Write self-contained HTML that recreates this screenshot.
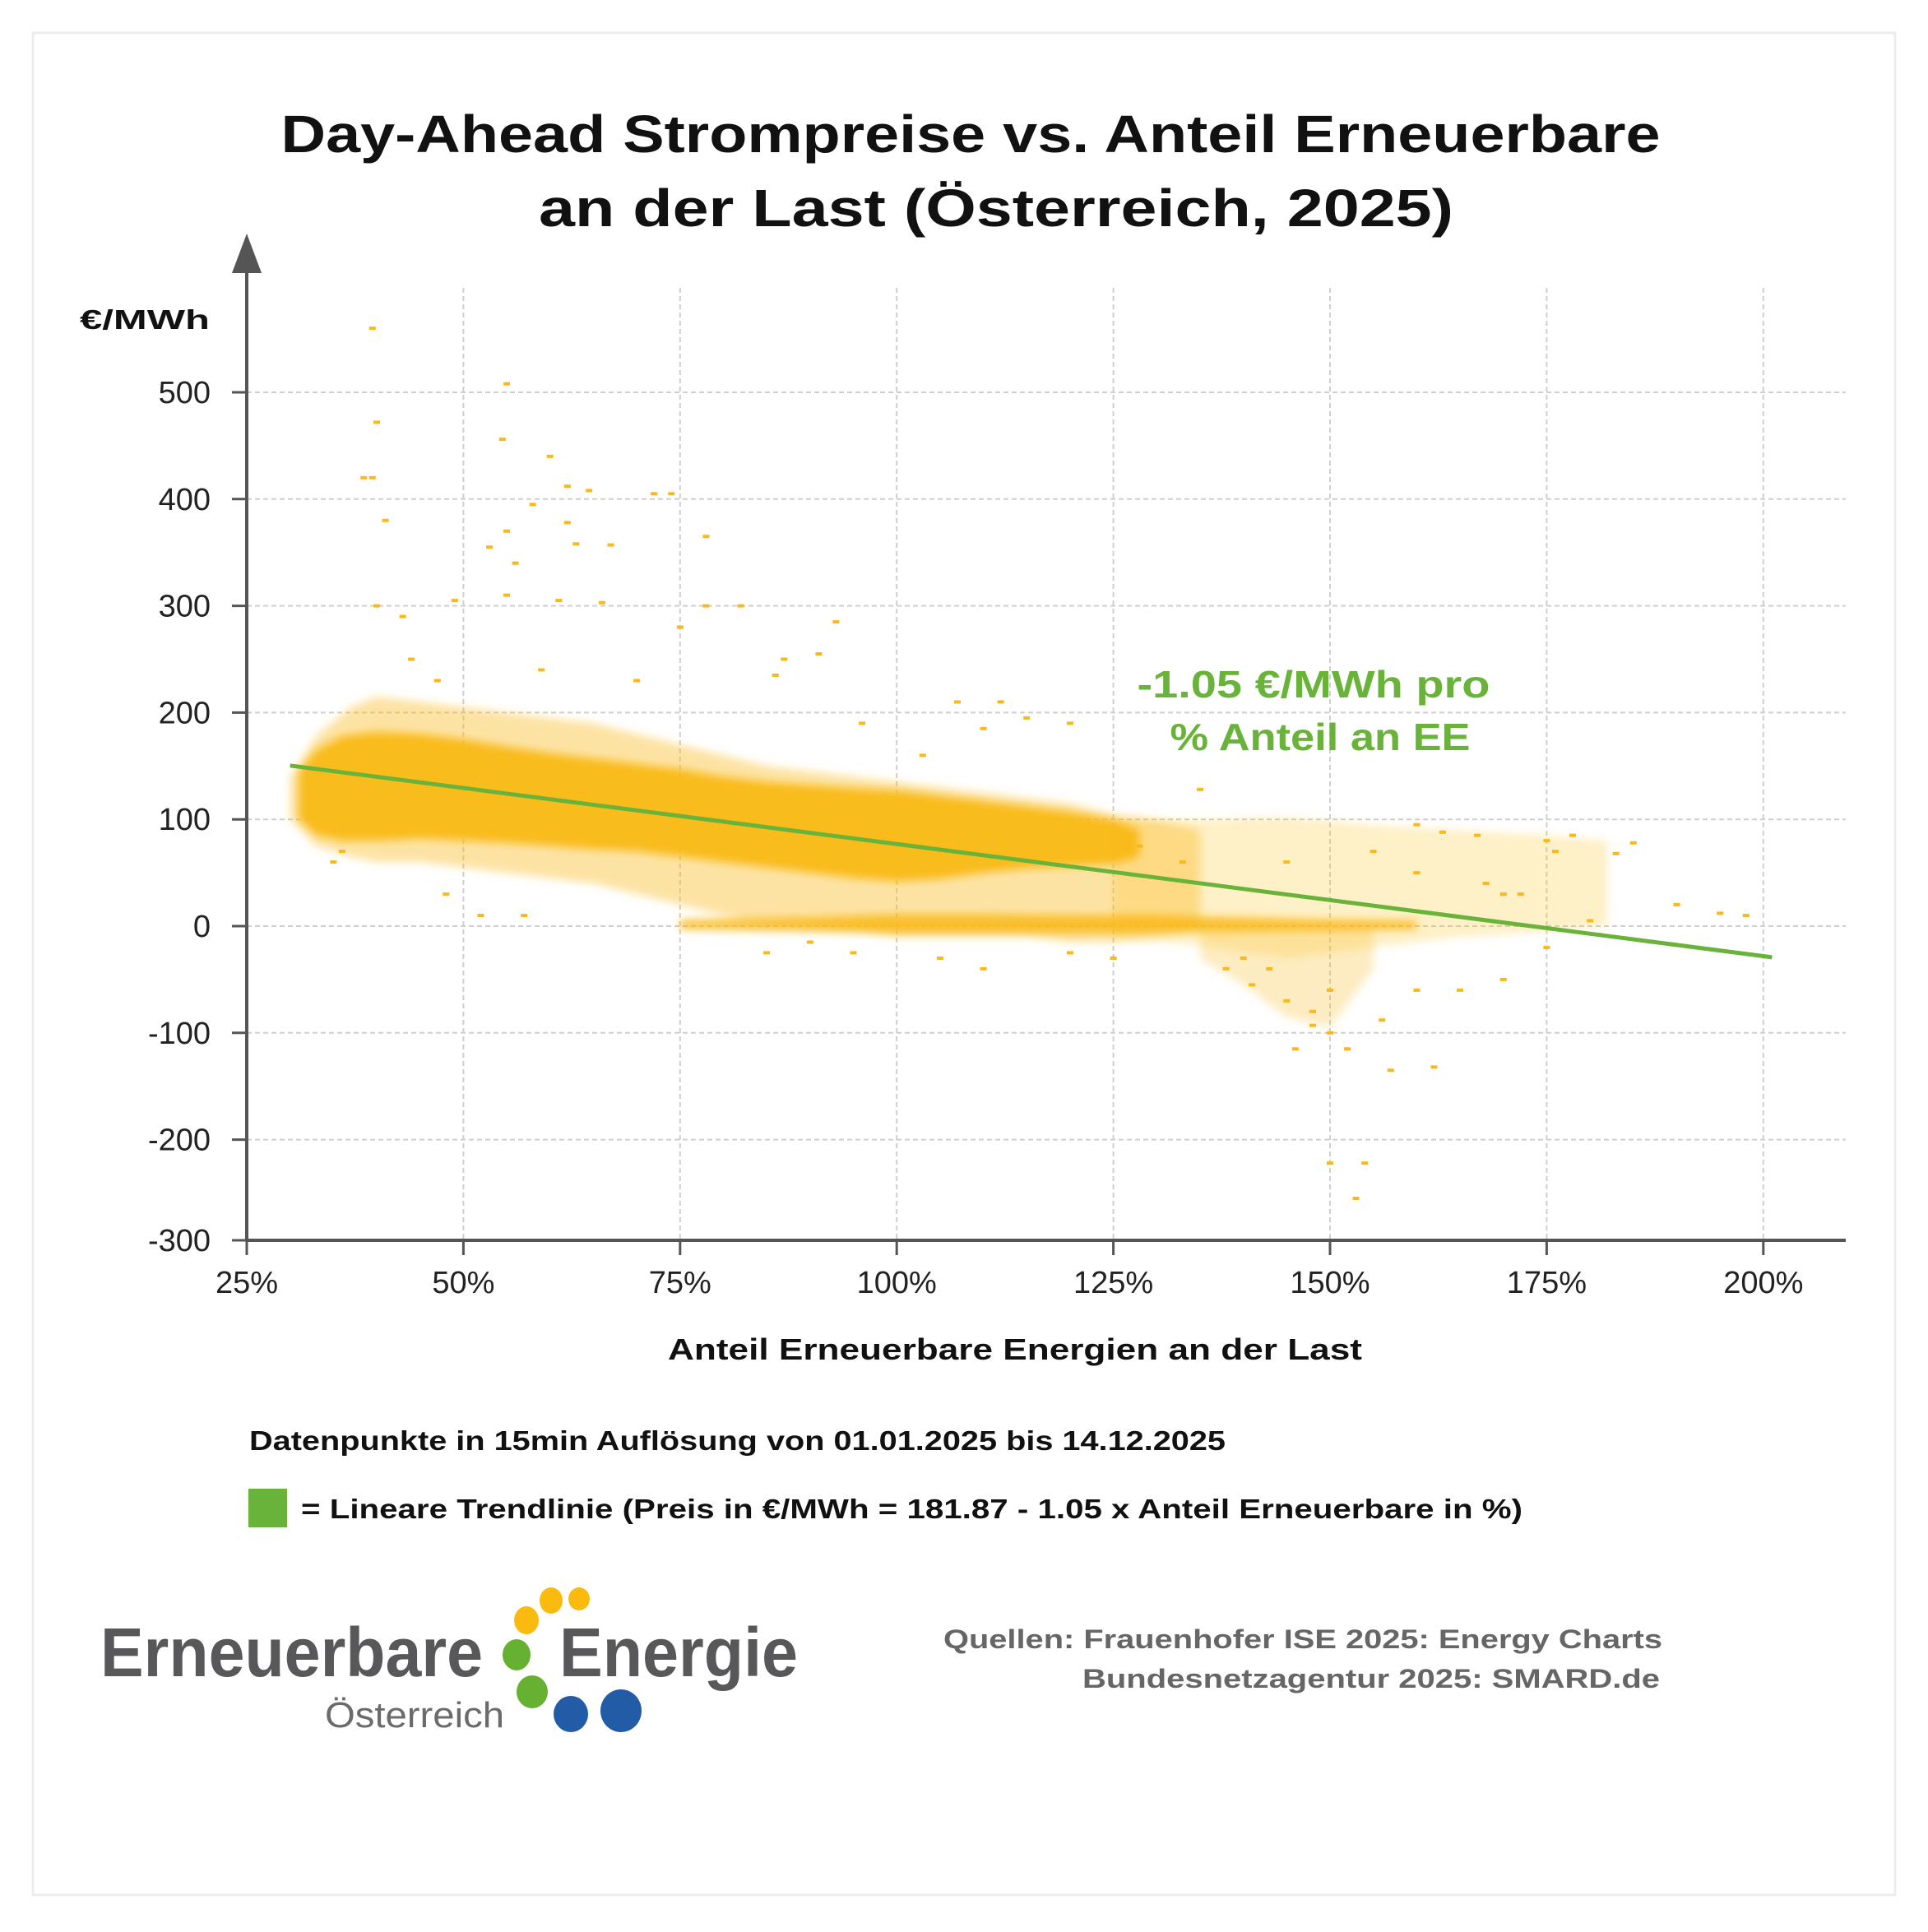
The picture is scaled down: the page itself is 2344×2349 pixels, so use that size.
<!DOCTYPE html>
<html><head><meta charset="utf-8">
<style>
html,body{margin:0;padding:0;background:#fff;}
body{width:2344px;height:2344px;position:relative;overflow:hidden;font-family:"Liberation Sans",sans-serif;}
svg text{font-family:"Liberation Sans",sans-serif;}
</style></head>
<body>
<svg id="chart" width="2344" height="2344" viewBox="0 0 2344 2344" xmlns="http://www.w3.org/2000/svg">
<defs><filter id="soft" filterUnits="userSpaceOnUse" x="0" y="0" width="2344" height="2344"><feGaussianBlur stdDeviation="5"/></filter></defs>
<rect x="40" y="40" width="2264" height="2264" fill="#fff" stroke="#ececec" stroke-width="3"/>
<g font-weight="bold" font-size="64" fill="#111" text-anchor="middle">
<text x="1180" y="185" textLength="1677" lengthAdjust="spacingAndGlyphs">Day-Ahead Strompreise vs. Anteil Erneuerbare</text>
<text x="1211" y="275" textLength="1112" lengthAdjust="spacingAndGlyphs">an der Last (Österreich, 2025)</text>
</g>
<g id="grid"></g>
<g id="bands" filter="url(#soft)"></g>
<g id="points"></g>
<g id="axes"></g>
<g id="trend"></g>
<text x="97" y="400" font-size="33" font-weight="bold" fill="#111" textLength="158" lengthAdjust="spacingAndGlyphs">€/MWh</text>
<text x="1234" y="1653" font-size="36" font-weight="bold" fill="#111" text-anchor="middle" textLength="844" lengthAdjust="spacingAndGlyphs">Anteil Erneuerbare Energien an der Last</text>
<g font-size="46" font-weight="bold" fill="#6ab33a" text-anchor="middle">
<text x="1597" y="848" textLength="429" lengthAdjust="spacingAndGlyphs">-1.05 €/MWh pro</text>
<text x="1605" y="912" textLength="365" lengthAdjust="spacingAndGlyphs">% Anteil an EE</text>
</g>
<text x="303" y="1763" font-size="33" font-weight="bold" fill="#111" textLength="1187" lengthAdjust="spacingAndGlyphs">Datenpunkte in 15min Auflösung von 01.01.2025 bis 14.12.2025</text>
<rect x="302" y="1810" width="47" height="47" fill="#6ab33a"/>
<text x="366" y="1846" font-size="33" font-weight="bold" fill="#111" textLength="1485" lengthAdjust="spacingAndGlyphs">= Lineare Trendlinie (Preis in €/MWh = 181.87 - 1.05 x Anteil Erneuerbare in %)</text>
<g font-size="32" font-weight="bold" fill="#666">
<text x="1147" y="2004" textLength="874" lengthAdjust="spacingAndGlyphs">Quellen: Frauenhofer ISE 2025: Energy Charts</text>
<text x="1316" y="2052" textLength="702" lengthAdjust="spacingAndGlyphs">Bundesnetzagentur 2025: SMARD.de</text>
</g>
<g>
<text x="122" y="2038" font-size="84" font-weight="bold" fill="#58585a" textLength="465" lengthAdjust="spacingAndGlyphs">Erneuerbare</text>
<text x="680" y="2038" font-size="84" font-weight="bold" fill="#58585a" textLength="290" lengthAdjust="spacingAndGlyphs">Energie</text>
<text x="395" y="2100" font-size="44" fill="#6b6b6b" textLength="218" lengthAdjust="spacingAndGlyphs">Österreich</text>
<ellipse cx="640" cy="1970" rx="15" ry="17" fill="#fbba0e"/>
<ellipse cx="670" cy="1946" rx="14" ry="16" fill="#fbba0e"/>
<ellipse cx="704" cy="1944" rx="13" ry="14" fill="#fbba0e"/>
<ellipse cx="628" cy="2012" rx="17" ry="19" fill="#66b032"/>
<ellipse cx="647" cy="2057" rx="19" ry="20" fill="#66b032"/>
<ellipse cx="694" cy="2084" rx="21" ry="22" fill="#235ca6"/>
<ellipse cx="755" cy="2080" rx="25" ry="26" fill="#235ca6"/>
</g>
</svg>
<script>
const xTicks=[25,50,75,100,125,150,175,200];
const xTickLabels=["25%","50%","75%","100%","125%","150%","175%","200%"];
const yTicks=[500,400,300,200,100,0,-100,-200,-300];
const yTickLabels=["500","400","300","200","100","0","-100","-200","-300"];
const trendIntercept=181.87;
const trendSlope=-1.05;
const trendRange=[30,201];
// density bands (share %, upper price, lower price)
const haloShare=[30,33,37,40,45,50,55,60,65,70,75,80,85,90,95,100,105,110,115,120,125,130,135];
const haloUpper=[140,178,205,215,210,205,200,195,190,180,170,160,150,145,140,135,130,125,120,115,105,100,90];
const haloLower=[100,75,65,60,60,55,50,45,40,30,20,10,5,0,-5,-10,-10,-10,-10,-15,-15,-10,-5];
const coreShare=[31,33,36,40,45,50,55,60,65,70,75,80,85,90,95,100,105,110,115,120,125,128];
const coreUpper=[145,165,178,182,180,175,168,162,157,152,147,140,135,132,129,127,122,117,112,107,100,90];
const coreLower=[100,85,80,80,82,80,78,75,72,70,65,60,55,50,45,42,44,50,54,56,58,65];
const zeroShare=[75,90,100,110,120,130,140,150,160];
const zeroUpper=[6,8,11,11,10,10,8,6,5];
const zeroLower=[-3,-5,-7,-7,-7,-6,-5,-4,-3];
const rightShare=[125,135,145,155,165,175,182];
const rightUpper=[100,100,102,95,90,85,80];
const rightLower=[-12,-18,-30,-20,-10,-5,0];
const dripShare=[135,140,145,150,155];
const dripUpper=[0,0,0,0,0];
const dripLower=[-30,-55,-85,-95,-40];
// individual outlier points
const ptShare=[39.5,40,38.5,39.5,41,55,54.5,60,62,64.5,72,74,58,62,63,67,78,55,53,56,40,43,49,55,61,66,75,78,82,87,91,93,107,112,110,115,120,135,160,163,167,175,178,185,190,195,198,187,181,160,150,148,152,146,157,162,150,154,153,156,143,140,145,110,105,95,85,90,52,57,48,35,36,120,125,170,165,175,180,172,168,160,150,148,141,138,133,128,145,155,176,183,170,47,44,59,70,86,96,103];
const ptPrice=[560,472,420,420,380,508,456,440,412,408,405,405,395,378,358,357,365,370,355,340,300,290,305,310,305,303,280,300,300,250,255,285,210,210,185,195,190,128,95,88,85,80,85,78,20,12,10,-15,-8,-60,-60,-80,-115,-115,-135,-132,-222,-222,-255,-88,-40,-30,-70,-40,-30,-25,-25,-15,10,10,30,60,70,-25,-30,-50,-60,-20,5,30,40,50,-100,-93,-55,-40,60,75,60,70,70,68,30,230,250,240,230,235,190,160];

const NS="http://www.w3.org/2000/svg";
const X0=300, XPER=263.4/25, Y0=1126, YPER=1.298;
function xs(v){return X0+(v-25)*XPER;}
function ys(v){return Y0-v*YPER;}
function mk(tag,attrs,parent){const e=document.createElementNS(NS,tag);for(const k in attrs)e.setAttribute(k,attrs[k]);parent.appendChild(e);return e;}
const grid=document.getElementById('grid'),axes=document.getElementById('axes'),bands=document.getElementById('bands'),points=document.getElementById('points'),trend=document.getElementById('trend');
const AXB=1508;
yTicks.forEach((t,i)=>{
  if(t>-300){const l=mk('line',{x1:X0,x2:2244,y1:ys(t),y2:ys(t),stroke:'#cfcfcf','stroke-width':2,'stroke-dasharray':'6 4'},grid);
  
  }
  const yy=t===-300?AXB:ys(t);
  const tk=mk('line',{x1:X0-18,x2:X0,y1:yy,y2:yy,stroke:'#555','stroke-width':3},axes);
  
  
  const tx=mk('text',{x:X0-44,y:yy+13,'font-size':38,fill:'#222','text-anchor':'end'},axes);
  tx.textContent=yTickLabels[i];
  
  
});
xTicks.forEach((t,i)=>{
  if(t>25){const l=mk('line',{x1:xs(t),x2:xs(t),y1:350,y2:AXB,stroke:'#cfcfcf','stroke-width':2,'stroke-dasharray':'6 4'},grid);
  
  }
  const tk=mk('line',{x1:xs(t),x2:xs(t),y1:AXB,y2:AXB+18,stroke:'#555','stroke-width':3},axes);
  
  
  const tx=mk('text',{x:xs(t),y:AXB+64,'font-size':38,fill:'#222','text-anchor':'middle'},axes);
  tx.textContent=xTickLabels[i];
  
  
});
const ya=mk('line',{x1:X0,x2:X0,y1:310,y2:AXB,stroke:'#555','stroke-width':4},axes);


const ar=mk('polygon',{points:`${X0-18},332 ${X0+18},332 ${X0},284`,fill:'#555'},axes);


const xa=mk('line',{x1:X0,x2:2244,y1:AXB,y2:AXB,stroke:'#555','stroke-width':4},axes);


function band(sh,up,lo,op,name){
  const pts=[];
  for(let i=0;i<sh.length;i++)pts.push(xs(sh[i])+','+ys(up[i]));
  for(let i=sh.length-1;i>=0;i--)pts.push(xs(sh[i])+','+ys(lo[i]));
  const p=mk('polygon',{points:pts.join(' '),fill:'#f9b918','fill-opacity':op,'stroke-linejoin':'round'},bands);
  
  
}
band(rightShare,rightUpper,rightLower,0.22,'density-right');
band(dripShare,dripUpper,dripLower,0.28,'density-drip');
band(haloShare,haloUpper,haloLower,0.4,'density-halo');
band(zeroShare,zeroUpper,zeroLower,0.85,'density-zero');
band(coreShare,coreUpper,coreLower,0.95,'density-core');
for(let i=0;i<ptShare.length;i++){
  const r=mk('rect',{x:xs(ptShare[i])-4,y:ys(ptPrice[i])-2,width:8,height:4,fill:'#f9b918'},points);
  
  
}
const tl=mk('line',{x1:xs(trendRange[0]),y1:ys(trendIntercept+trendSlope*trendRange[0]),x2:xs(trendRange[1]),y2:ys(trendIntercept+trendSlope*trendRange[1]),stroke:'#6ab33a','stroke-width':5},trend);


</script>
</body></html>
